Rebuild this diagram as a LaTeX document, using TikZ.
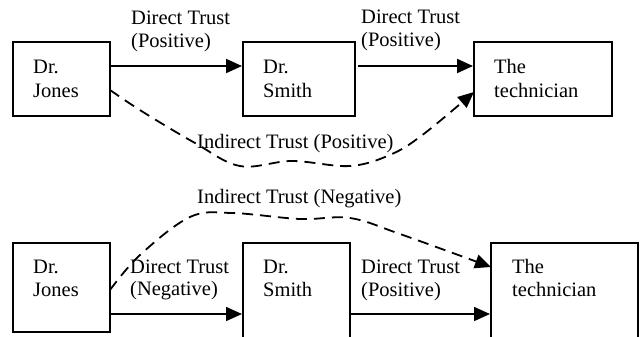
\documentclass[tikz,border=0pt]{standalone}
\usepackage{fontspec}
\setmainfont{Liberation Serif}
\usetikzlibrary{arrows.meta}
\begin{document}
\begin{tikzpicture}[x=1pt,y=-1pt,
  box/.style={draw,line width=2pt,rectangle,inner sep=0pt},
  txt/.style={anchor=base west,inner sep=0pt,font=\fontsize{20.5}{23}\selectfont},
  arr/.style={line width=2pt,-{Triangle[length=16pt,width=14pt]}},
  darr/.style={line width=1.8pt,dash pattern=on 11pt off 7pt,-{Triangle[length=16pt,width=14pt]}}]
\useasboundingbox (0,0) rectangle (640,337);
\clip (0,0) rectangle (640,337);
% ---- top row ----
\node[box,minimum width=97pt,minimum height=74pt] (j1) at (61.5,79) {};
\node[box,minimum width=112pt,minimum height=74pt] (s1) at (299,79) {};
\node[box,minimum width=138pt,minimum height=74pt] (t1) at (543,79) {};
\node[txt] (j1a) at (33,74) {Dr.};
\node[txt] (j1b) at (33,97) {Jones};
\node[txt] (s1a) at (263,74) {Dr.};
\node[txt] (s1b) at (263,97) {Smith};
\node[txt] (t1a) at (494,74) {The};
\node[txt] (t1b) at (494,97) {technician};
\node[txt] (l1a) at (131,25) {Direct Trust};
\node[txt] (l1b) at (131,48) {(Positive)};
\node[txt] (l2a) at (361,24) {Direct Trust};
\node[txt] (l2b) at (361,47) {(Positive)};
\node[txt] (l3) at (197,148) {Indirect Trust (Positive)};
\coordinate (a1) at (0,66);
\draw[arr] (j1.east |- a1) -- (s1.west |- a1);
\coordinate (a2) at (358,66);
\draw[arr] (a2) -- (t1.west |- a2);
\coordinate (p0) at (110,90);
\coordinate (p1) at (143,112);
\coordinate (p2) at (195,143);
\coordinate (p3) at (240,166);
\coordinate (p4) at (292,161);
\coordinate (p5) at (350,166);
\coordinate (p6) at (392,154);
\coordinate (p7) at (425,133);
\coordinate (p8) at (474,92);
\draw[darr] plot[smooth,tension=0.6] coordinates {(p0) (p1) (p2) (p3) (p4) (p5) (p6) (p7) (p8)};
% ---- bottom row ----
\node[box,minimum width=97pt,minimum height=89pt] (j2) at (61.5,287.5) {};
\node[box,minimum width=107pt,minimum height=110pt] (s2) at (296.5,298) {};
\node[box,minimum width=147pt,minimum height=110pt] (t2) at (564.5,298) {};
\node[txt] (j2a) at (33,273) {Dr.};
\node[txt] (j2b) at (33,296) {Jones};
\node[txt] (s2a) at (263,273) {Dr.};
\node[txt] (s2b) at (263,296) {Smith};
\node[txt] (t2a) at (512,273) {The};
\node[txt] (t2b) at (512,296) {technician};
\node[txt] (m1a) at (130,273) {Direct Trust};
\node[txt] (m1b) at (130,295) {(Negative)};
\node[txt] (m2a) at (361,273) {Direct Trust};
\node[txt] (m2b) at (361,296) {(Positive)};
\node[txt] (m3) at (197,203) {Indirect Trust (Negative)};
\coordinate (b1) at (0,314);
\draw[arr,line width=1.6pt] (j2.east |- b1) -- (s2.west |- b1);
\draw[arr,line width=1.6pt] (s2.east |- b1) -- (t2.west |- b1);
\coordinate (q0) at (110,290);
\coordinate (q1) at (140,255);
\coordinate (q2) at (190,217);
\coordinate (q3) at (232,213);
\coordinate (q4) at (300,219);
\coordinate (q5) at (350,218);
\coordinate (q6) at (400,234);
\coordinate (q7) at (491,267);
\draw[darr] plot[smooth,tension=0.6] coordinates {(q0) (q1) (q2) (q3) (q4) (q5) (q6) (q7)};
\end{tikzpicture}
\end{document}
